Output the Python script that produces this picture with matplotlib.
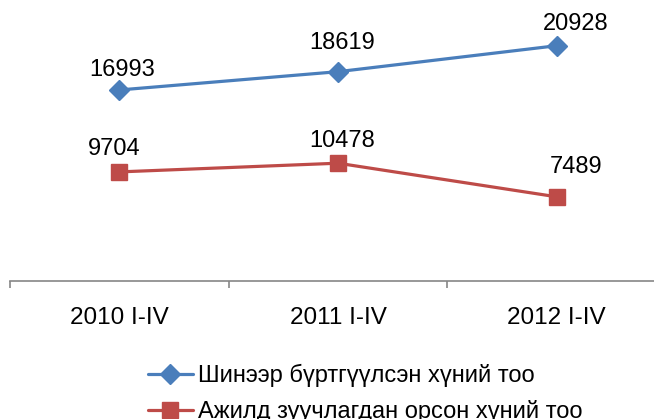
import matplotlib
matplotlib.use("Agg")
import matplotlib.pyplot as plt

plt.rcParams["font.family"] = ["Liberation Sans", "DejaVu Sans"]

categories = ["2010 I-IV", "2011 I-IV", "2012 I-IV"]
registered = [16993, 18619, 20928]
employed = [9704, 10478, 7489]
registered_name = "Шинээр бүртгүүлсэн хүний тоо"
employed_name = "Ажилд зуучлагдан орсон хүний тоо"

BLUE = "#4A7EBB"
RED = "#BE4B48"
AXIS = "#868686"

fig = plt.figure(figsize=(6.54, 4.19), dpi=100)
ax = fig.add_axes([10 / 654, 138 / 419, 656 / 654, 276 / 419])

x = list(range(len(categories)))
ax.plot(x, registered, color=BLUE, lw=2.3, marker="D", ms=10,
        label=registered_name, solid_capstyle="round")
ax.plot(x, employed, color=RED, lw=2.3, marker="s", ms=12,
        label=employed_name, solid_capstyle="round")

# label offsets (points, to text baseline) roughly as in the original
blue_off = [(2, 10), (3, 16), (14, 11)]
red_off = [(-4, 12), (3, 12), (14, 17)]
for xi, v, off in zip(x, registered, blue_off):
    ax.annotate(str(v), (xi, v), xytext=off, textcoords="offset points",
                ha="center", va="baseline", fontsize=17)
for xi, v, off in zip(x, employed, red_off):
    ax.annotate(str(v), (xi, v), xytext=off, textcoords="offset points",
                ha="center", va="baseline", fontsize=17)

ax.set_xlim(-0.5, 2.5)
ax.set_ylim(0, 24550)
ax.set_yticks([])
for side in ("left", "right", "top"):
    ax.spines[side].set_visible(False)
ax.spines["bottom"].set_color(AXIS)
ax.spines["bottom"].set_linewidth(1.2)

ax.set_xticks(x)
ax.set_xticklabels(categories, fontsize=17.5)
ax.set_xticks([-0.5, 0.5, 1.5, 2.5], minor=True)
ax.tick_params(axis="x", which="major", length=0, pad=19)
ax.tick_params(axis="x", which="minor", length=5, color=AXIS, width=1.2)

fig.legend(loc="upper left", bbox_to_anchor=(148 / 654, 1 - 364 / 419),
           frameon=False, fontsize=17, handlelength=1.9, handletextpad=0.2,
           labelspacing=0.55, borderaxespad=0, borderpad=0)

fig.savefig("out.png", dpi=100)
